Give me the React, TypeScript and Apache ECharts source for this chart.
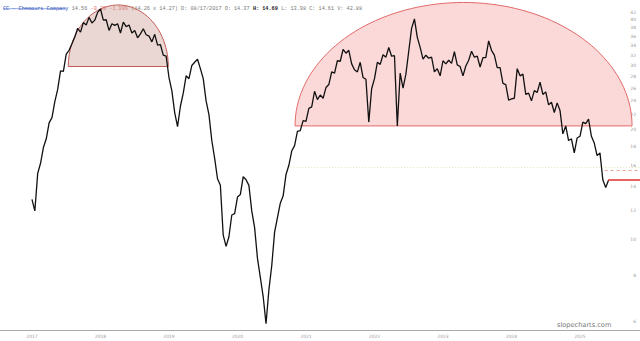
import React, { useEffect, useRef } from "react";
import * as echarts from "echarts";

// Price series: one value per half-month, starting at the first year label
const START_YEAR = 2017;
const STEP_YEARS = 1 / 24;
const prices = [
  12.9, 12.0, 15.2, 16.2, 17.9, 18.9, 20.9, 21.6, 23.9, 25.8,
  29.0, 28.9, 32.2, 33.0, 34.4, 35.9, 37.9, 37.0, 39.3, 38.7,
  40.6, 39.2, 39.9, 41.9, 42.8, 39.9, 40.0, 37.4, 39.0, 38.6,
  39.0, 36.8, 39.4, 38.3, 38.7, 36.8, 37.4, 35.7, 36.6, 37.8,
  36.4, 36.1, 34.8, 36.5, 34.1, 34.2, 32.0, 31.8, 27.8, 25.6,
  22.3, 20.4, 23.2, 25.2, 28.1, 27.6, 30.0, 30.6, 31.2, 29.4,
  27.6, 24.0, 22.0, 18.7, 16.7, 14.7, 14.1, 10.3, 9.6, 10.2,
  11.7, 11.8, 13.1, 13.3, 14.9, 14.6, 14.1, 12.0, 10.8, 8.9,
  7.9, 7.0, 5.9, 7.3, 8.5, 10.5, 11.5, 12.6, 13.2, 15.1,
  16.0, 17.5, 18.1, 19.8, 19.9, 21.2, 21.1, 22.9, 23.1, 25.5,
  24.2, 24.9, 24.4, 26.1, 26.6, 28.8, 28.6, 30.9, 30.8, 33.2,
  32.4, 33.0, 30.3, 29.2, 28.8, 30.6, 27.8, 27.5, 21.0, 25.9,
  27.6, 30.6, 30.2, 32.1, 31.6, 33.6, 31.8, 31.9, 20.5, 28.6,
  26.0, 28.4, 32.8, 37.9, 40.2, 35.8, 33.6, 31.2, 32.0, 31.4,
  31.6, 28.8, 29.4, 28.1, 30.9, 30.3, 31.0, 30.4, 32.7, 30.1,
  29.8, 28.1, 29.9, 31.0, 32.8, 31.6, 31.8, 29.7, 31.5, 31.5,
  35.0, 33.0, 32.0, 29.6, 29.6, 26.8, 26.6, 24.1, 24.3, 24.4,
  29.4, 28.1, 28.4, 25.0, 25.2, 24.0, 25.6, 25.3, 27.0, 25.0,
  25.4, 23.4, 23.8, 22.3, 23.7, 22.6, 19.5, 20.5, 18.7, 18.9,
  17.3, 19.0, 19.2, 21.0, 20.8, 21.4, 19.2, 18.4, 17.0, 17.3,
  14.6, 13.9, 14.56,
];

const yearLabels = [2017, 2018, 2019, 2020, 2021, 2022, 2023, 2024, 2025];
const priceTicks = [6, 8, 10, 12, 14, 16, 18, 20, 22, 24, 26, 28, 30, 32, 34, 36, 38, 40, 42];

const X_MIN = 2016.533;
const X_MAX = 2025.876;
const Y_MIN = 5.67;
const Y_MAX = 45.3;

// Rounded-top patterns (half ellipses): start year, end year, base price, top price
const domeStart = [2017.53, 2020.84];
const domeEnd = [2018.99, 2025.76];
const domeBase = [29.8, 20.5];
const domeTop = [43.9, 44.6];

const lastPrice = 14.56;
const lastPriceFrom = 2025.41;
const supportLevel = 15.8;
const supportFrom = 2020.77;
const alertLevel = 15.5;
const alertFrom = 2025.36;

const domeFills = ["rgba(200,150,140,0.38)", "rgba(246,140,140,0.33)"];
const domeStrokes = ["#c25a55", "#e36a6a"];

export default function App() {
  const ref = useRef<HTMLDivElement>(null);
  useEffect(() => {
    if (!ref.current) return;
    document.body.style.margin = "0";
    document.body.style.overflow = "hidden";
    const chart = echarts.init(ref.current, null, { renderer: "svg" });
    const lineData = prices.map((p, i) => [START_YEAR + i * STEP_YEARS, p]);
    const baseGraphics: any[] = [
      {
        id: "header",
        type: "text",
        x: 3,
        y: 2.5,
        style: {
          text:
            "{a|CC - Chemours Company} {b|14.56} {c|-0.29 -1.99%} {b|(14.26 x 14.27) D: 08/17/2017 O: 14.37} {d|H: 14.69} {b|L: 13.98 C: 14.61 V: 42.88}",
          rich: {
            a: { fontFamily: "Liberation Mono", fontSize: 5.2, fill: "#2a4fc0" },
            b: { fontFamily: "Liberation Mono", fontSize: 5.2, fill: "#777" },
            c: { fontFamily: "Liberation Mono", fontSize: 5.2, fill: "#e07070" },
            d: { fontFamily: "Liberation Mono", fontSize: 5.2, fill: "#222", fontWeight: "bold" },
          },
        },
      },
      {
        id: "headerUnderline",
        type: "line",
        shape: { x1: 3, y1: 8.7, x2: 66, y2: 8.7 },
        style: { stroke: "#2a4fc0", lineWidth: 0.5 },
      },
      {
        id: "watermark",
        type: "text",
        x: 557,
        y: 321,
        style: { text: "slopecharts.com", fontSize: 6.6, fill: "#777", fontFamily: "DejaVu Sans" },
      },
    ];
    const option: any = {
      animation: false,
      grid: {
        left: 0,
        right: 0,
        top: 0,
        bottom: 11,
        containLabel: false,
        outerBoundsMode: "none",
      },
      xAxis: {
        type: "value",
        min: X_MIN,
        max: X_MAX,
        axisLine: { show: true, lineStyle: { color: "#aaaaaa", width: 1 } },
        axisTick: { show: false },
        splitLine: { show: false },
        axisLabel: { show: false },
      },
      yAxis: {
        type: "log",
        logBase: 10,
        min: Y_MIN,
        max: Y_MAX,
        position: "right",
        axisLine: { show: false },
        axisTick: { show: false },
        splitLine: { show: false },
        axisLabel: { show: false },
      },
      graphic: baseGraphics,
      series: [
        {
          type: "custom",
          encode: { x: [0, 1], y: [2, 3] },
          data: domeStart.map((s, i) => [s, domeEnd[i], domeBase[i], domeTop[i]]),
          clip: true,
          z: 1,
          renderItem: (params: any, api: any) => {
            const x0 = api.value(0);
            const x1 = api.value(1);
            const base = api.value(2);
            const top = api.value(3);
            const pL = api.coord([x0, base]);
            const pR = api.coord([x1, base]);
            const pT = api.coord([(x0 + x1) / 2, top]);
            const cx = (pL[0] + pR[0]) / 2;
            const rx = (pR[0] - pL[0]) / 2;
            const cy = pL[1];
            const ry = pL[1] - pT[1];
            const pts: number[][] = [];
            for (let k = 0; k <= 80; k++) {
              const a = (Math.PI * k) / 80;
              pts.push([cx - rx * Math.cos(a), cy - ry * Math.sin(a)]);
            }
            return {
              type: "polygon",
              shape: { points: pts },
              style: {
                fill: domeFills[params.dataIndex],
                stroke: domeStrokes[params.dataIndex],
                lineWidth: 1,
              },
            };
          },
        },
        {
          type: "line",
          data: lineData,
          showSymbol: false,
          symbol: "none",
          z: 3,
          lineStyle: { color: "#111", width: 1.3 },
          markLine: {
            silent: true,
            symbol: "none",
            label: { show: false },
            data: [
              [
                { coord: [supportFrom, supportLevel], lineStyle: { color: "#dfe6b8", type: [1, 2], width: 1 } },
                { coord: [X_MAX, supportLevel] },
              ],
              [
                { coord: [alertFrom, alertLevel], lineStyle: { color: "#f0a090", type: [3, 3], width: 1 } },
                { coord: [X_MAX, alertLevel] },
              ],
              [
                { coord: [lastPriceFrom, lastPrice], lineStyle: { color: "#e03030", type: "solid", width: 1.5 } },
                { coord: [X_MAX, lastPrice] },
              ],
            ],
          },
        },
      ],
    };
    chart.setOption(option);

    // Axis tick labels placed through the chart's own scales
    const xLabelGraphics = yearLabels.map((yr, i) => {
      const px = chart.convertToPixel({ xAxisIndex: 0 }, yr) as number;
      return {
        id: "xl" + i,
        type: "text",
        x: px,
        y: 333.5,
        style: {
          text: String(yr),
          fontSize: 4.5,
          fill: "#999",
          fontFamily: "DejaVu Sans",
          align: "center",
          verticalAlign: "top",
        },
      };
    });
    const yLabelGraphics = priceTicks.map((v, i) => {
      const py = chart.convertToPixel({ yAxisIndex: 0 }, v) as number;
      return {
        id: "yl" + i,
        type: "text",
        x: 636,
        y: py,
        style: {
          text: String(v),
          fontSize: 4.5,
          fill: "#999",
          fontFamily: "DejaVu Sans",
          align: "right",
          verticalAlign: "middle",
        },
      };
    });
    chart.setOption({ graphic: [...baseGraphics, ...xLabelGraphics, ...yLabelGraphics] });
    return () => chart.dispose();
  }, []);
  return (
    <div
      ref={ref}
      style={{ position: "absolute", left: 0, top: 0, width: 640, height: 341 }}
    />
  );
}
